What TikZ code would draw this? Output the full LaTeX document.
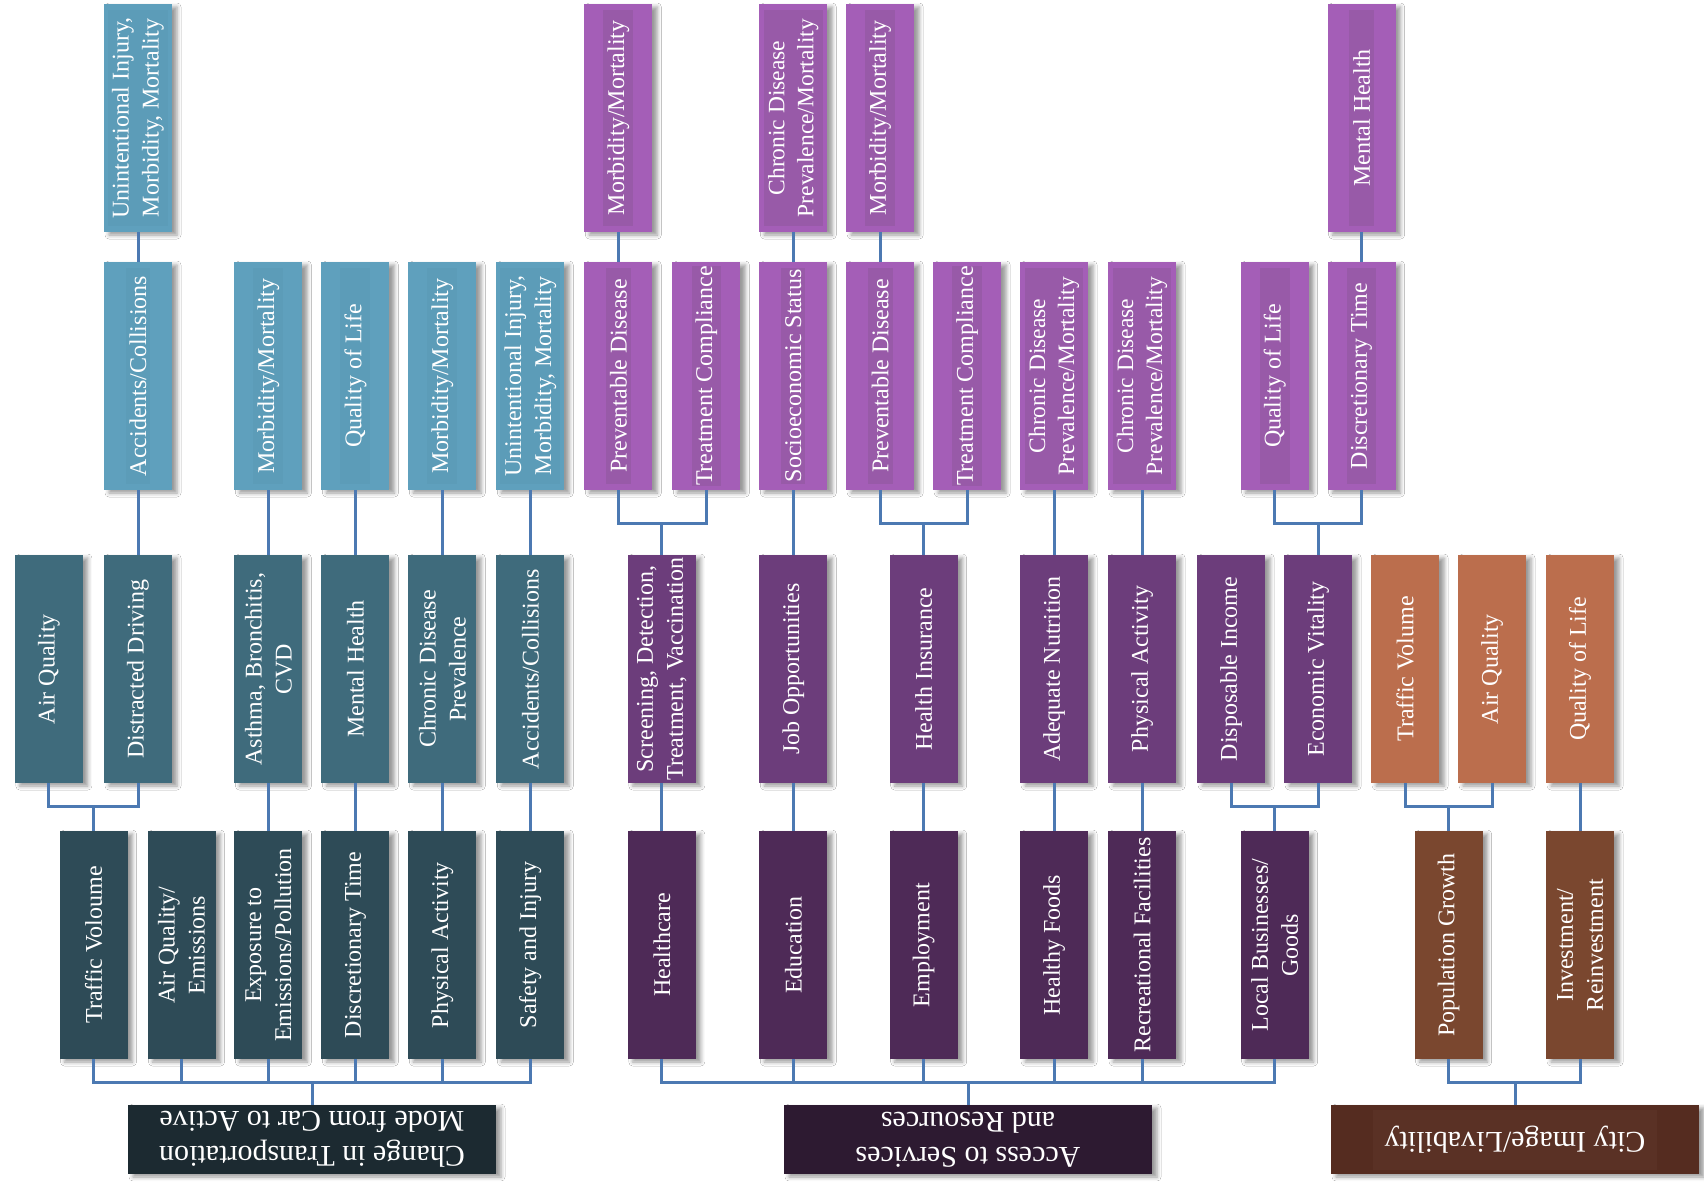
\documentclass[tikz,border=0pt]{standalone}
\usepackage{fontspec}
\setmainfont{Liberation Serif}
\usetikzlibrary{shadows.blur}

\definecolor{tealA}{HTML}{5FA0BD}
\definecolor{tealAi}{HTML}{5C9CB8}
\definecolor{tealB}{HTML}{3F6B7C}
\definecolor{tealC}{HTML}{2E4B57}
\definecolor{tealR}{HTML}{1C2A31}
\definecolor{purA}{HTML}{A45EB7}
\definecolor{purAi}{HTML}{985AA8}
\definecolor{purB}{HTML}{6C3D7B}
\definecolor{purC}{HTML}{4E2A57}
\definecolor{purR}{HTML}{2D1A31}
\definecolor{orB}{HTML}{BB6E4D}
\definecolor{orC}{HTML}{7A472F}
\definecolor{orR}{HTML}{552C20}
\definecolor{orRi}{HTML}{5A3125}
\definecolor{conncol}{HTML}{4C79B2}

\newcommand{\mybox}[5]{%
  \node[#3] (#1) at (#2) {};
  \node[#4] (#1-t) at (#2) {#5};}

\begin{document}
\begin{tikzpicture}[x=1pt,y=-1pt,
  boxbase/.style={rectangle, minimum width=68pt, minimum height=228pt,
    inner sep=0pt, outer sep=0pt,
    blur shadow={shadow xshift=5pt, shadow yshift=-3pt, shadow blur radius=4pt, shadow opacity=40}},
  tA/.style={boxbase, fill=tealA},
  tB/.style={boxbase, fill=tealB},
  tC/.style={boxbase, fill=tealC},
  pA/.style={boxbase, fill=purA},
  pB/.style={boxbase, fill=purB},
  pC/.style={boxbase, fill=purC},
  oB/.style={boxbase, fill=orB},
  oC/.style={boxbase, fill=orC},
  tx/.style={rotate=90, text=white, align=center, font=\fontsize{24}{30}\selectfont,
    inner xsep=0pt, inner ysep=4pt, minimum width=216pt},
  txs/.style={tx, font=\fontsize{23.5}{29}\selectfont},
  txA/.style={tx, fill=tealAi},
  txP/.style={tx, fill=purAi},
  txPs/.style={txs, fill=purAi},
  rootbase/.style={rectangle, minimum width=368pt, minimum height=69pt,
    inner sep=0pt, outer sep=0pt,
    blur shadow={shadow xshift=5pt, shadow yshift=-3pt, shadow blur radius=4pt, shadow opacity=40}},
  roottx/.style={rotate=180, text=white, align=center, font=\fontsize{30}{35}\selectfont, inner sep=2pt},
  conn/.style={draw=conncol, line width=3pt}
]
\useasboundingbox (0,0) rectangle (1704,1181);
\fill[white] (0,0) rectangle (1704,1181);

% ---------------- Left group (teal)
\mybox{L1a}{138,118}{tA}{txA}{Unintentional Injury,\\Morbidity, Mortality}
\mybox{L2a}{138,376}{tA}{txA}{Accidents/Collisions}
\mybox{L2b}{268.4,376}{tA}{txA}{Morbidity/Mortality}
\mybox{L2c}{355.4,376}{tA}{txA}{Quality of Life}
\mybox{L2d}{442.3,376}{tA}{txA}{Morbidity/Mortality}
\mybox{L2e}{530.3,376}{tA}{txA}{Unintentional Injury,\\Morbidity, Mortality}
\mybox{L3a}{48.9,669}{tB}{tx}{Air Quality}
\mybox{L3b}{138,669}{tB}{tx}{Distracted Driving}
\mybox{L3c}{268.4,669}{tB}{tx}{Asthma, Bronchitis,\\CVD}
\mybox{L3d}{355.4,669}{tB}{tx}{Mental Health}
\mybox{L3e}{442.3,669}{tB}{tx}{Chronic Disease\\Prevalence}
\mybox{L3f}{530.3,669}{tB}{tx}{Accidents/Collisions}
\mybox{L4a}{93.5,945}{tC}{tx}{Traffic Voloume}
\mybox{L4b}{181.5,945}{tC}{tx}{Air Quality/\\Emissions}
\mybox{L4c}{268.4,945}{tC}{tx}{Exposure to\\Emissions/Pollution}
\mybox{L4d}{355.4,945}{tC}{tx}{Discretionary Time}
\mybox{L4e}{442.3,945}{tC}{tx}{Physical Activity}
\mybox{L4f}{530.3,945}{tC}{tx}{Safety and Injury}
\node[rootbase, fill=tealR] (rootL) at (312,1139.5) {};
\node[roottx] (rootL-t) at (312,1139.5) {Change in Transportation\\Mode from Car to Active};

% ---------------- Middle group (purple)
\mybox{M1a}{618.3,118}{pA}{txP}{Morbidity/Mortality}
\mybox{M1b}{793.3,118}{pA}{txPs}{Chronic Disease\\Prevalence/Mortality}
\mybox{M1c}{880.2,118}{pA}{txP}{Morbidity/Mortality}
\mybox{M1d}{1361.6,118}{pA}{txP}{Mental Health}
\mybox{M2a}{618.3,376}{pA}{txP}{Preventable Disease}
\mybox{M2b}{706.4,376}{pA}{txP}{Treatment Compliance}
\mybox{M2c}{793.3,376}{pA}{txP}{Socioeconomic Status}
\mybox{M2d}{880.2,376}{pA}{txP}{Preventable Disease}
\mybox{M2e}{967.2,376}{pA}{txP}{Treatment Compliance}
\mybox{M2f}{1054.1,376}{pA}{txPs}{Chronic Disease\\Prevalence/Mortality}
\mybox{M2g}{1142.1,376}{pA}{txPs}{Chronic Disease\\Prevalence/Mortality}
\mybox{M2h}{1274.7,376}{pA}{txP}{Quality of Life}
\mybox{M2i}{1361.6,376}{pA}{txP}{Discretionary Time}
\mybox{M3a}{661.8,669}{pB}{tx}{Screening, Detection,\\Treatment, Vaccination}
\mybox{M3b}{793.3,669}{pB}{tx}{Job Opportunities}
\mybox{M3c}{923.7,669}{pB}{tx}{Health Insurance}
\mybox{M3d}{1054.1,669}{pB}{tx}{Adequate Nutrition}
\mybox{M3e}{1142.1,669}{pB}{tx}{Physical Activity}
\mybox{M3f}{1231.2,669}{pB}{tx}{Disposable Income}
\mybox{M3g}{1318.2,669}{pB}{tx}{Economic Vitality}
\mybox{M4a}{661.8,945}{pC}{tx}{Healthcare}
\mybox{M4b}{793.3,945}{pC}{tx}{Education}
\mybox{M4c}{923.7,945}{pC}{tx}{Employment}
\mybox{M4d}{1054.1,945}{pC}{tx}{Healthy Foods}
\mybox{M4e}{1142.1,945}{pC}{tx}{Recreational Facilities}
\mybox{M4f}{1274.7,945}{pC}{tx}{Local Businesses/\\Goods}
\node[rootbase, fill=purR] (rootM) at (968,1139.5) {};
\node[roottx] (rootM-t) at (968,1139.5) {Access to Services\\and Resources};

% ---------------- Right group (orange)
\mybox{R3a}{1405.1,669}{oB}{tx}{Traffic Volume}
\mybox{R3b}{1492,669}{oB}{tx}{Air Quality}
\mybox{R3c}{1580.1,669}{oB}{tx}{Quality of Life}
\mybox{R4a}{1448.6,945}{oC}{tx}{Population Growth}
\mybox{R4b}{1580.1,945}{oC}{tx}{Investment/\\Reinvestment}
\node[rootbase, fill=orR] (rootR) at (1515,1139.5) {};
\node[roottx, fill=orRi, inner xsep=12pt, minimum height=60pt] (rootR-t) at (1515,1139.5) {City Image/Livability};

% ---------------- Connectors
\coordinate (h23) at (0,523);
\coordinate (h34) at (0,806);
\coordinate (h4r) at (0,1082);

\foreach \a/\b in {L2a/L1a, L3b/L2a, L3c/L2b, L3d/L2c, L3e/L2d, L3f/L2e,
  L4c/L3c, L4d/L3d, L4e/L3e, L4f/L3f,
  M2a/M1a, M2c/M1b, M2d/M1c, M2i/M1d, M3b/M2c, M3d/M2f, M3e/M2g,
  M4a/M3a, M4b/M3b, M4c/M3c, M4d/M3d, M4e/M3e, R4b/R3c}
  \draw[conn] (\a.north) -- (\b.south);

% left forks
\draw[conn] (L3a.south) -- (L3a.south |- h34) -| (L3b.south);
\draw[conn] (L4a.north) -- (L4a.north |- h34);
\draw[conn] (L4a.south) -- (L4a.south |- h4r) -| (L4f.south);
\foreach \c in {L4b,L4c,L4d,L4e} \draw[conn] (\c.south) -- (\c.south |- h4r);
\draw[conn] (rootL.north) -- (rootL.north |- h4r);

% middle forks
\draw[conn] (M2a.south) -- (M2a.south |- h23) -| (M2b.south);
\draw[conn] (M3a.north) -- (M3a.north |- h23);
\draw[conn] (M2d.south) -- (M2d.south |- h23) -| (M2e.south);
\draw[conn] (M3c.north) -- (M3c.north |- h23);
\draw[conn] (M2h.south) -- (M2h.south |- h23) -| (M2i.south);
\draw[conn] (M3g.north) -- (M3g.north |- h23);
\draw[conn] (M3f.south) -- (M3f.south |- h34) -| (M3g.south);
\draw[conn] (M4f.north) -- (M4f.north |- h34);
\draw[conn] (M4a.south) -- (M4a.south |- h4r) -| (M4f.south);
\foreach \c in {M4b,M4c,M4d,M4e} \draw[conn] (\c.south) -- (\c.south |- h4r);
\draw[conn] (rootM.north) -- (rootM.north |- h4r);

% right forks
\draw[conn] (R3a.south) -- (R3a.south |- h34) -| (R3b.south);
\draw[conn] (R4a.north) -- (R4a.north |- h34);
\draw[conn] (R4a.south) -- (R4a.south |- h4r) -| (R4b.south);
\draw[conn] (rootR.north) -- (rootR.north |- h4r);
\end{tikzpicture}
\end{document}
